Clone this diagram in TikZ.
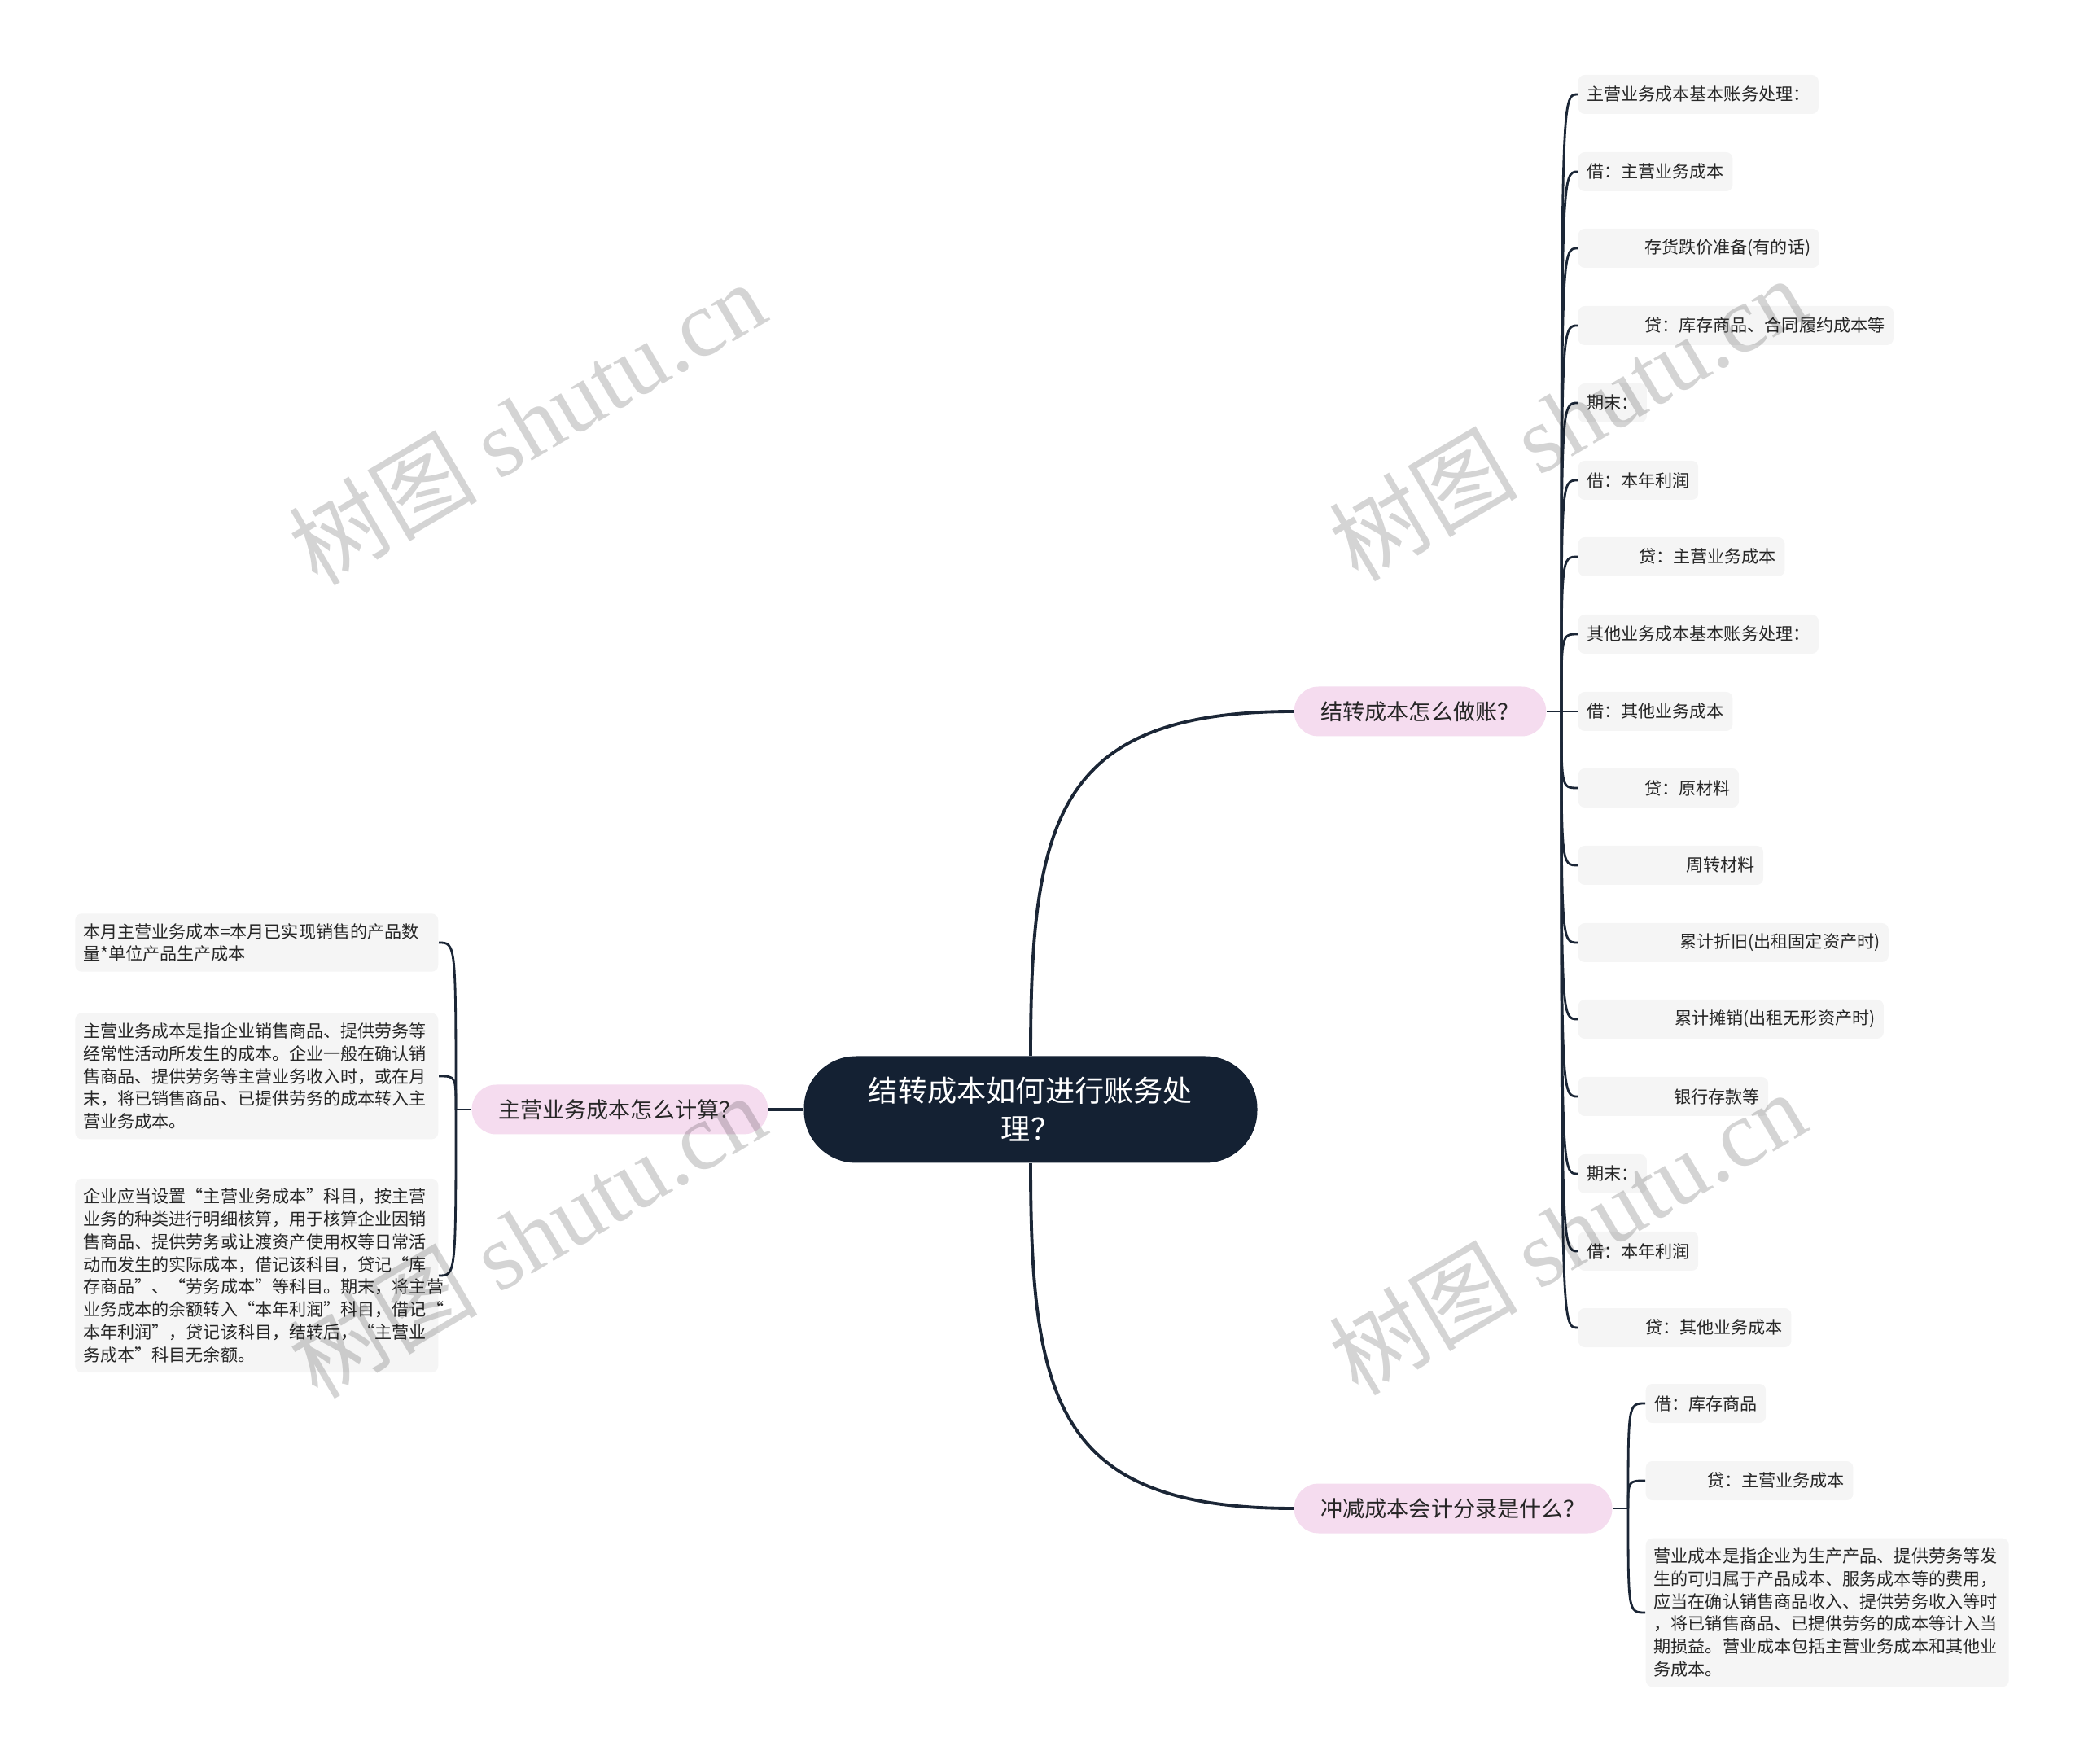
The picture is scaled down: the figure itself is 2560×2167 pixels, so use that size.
\documentclass[tikz,border=0pt]{standalone}
\usepackage{fontspec}
\setmainfont{Noto Sans CJK SC}
\newfontfamily\wmfont{Liberation Serif}
\usepackage{tikz}
\usetikzlibrary{positioning}
\definecolor{mmnavy}{HTML}{142133}
\definecolor{mmline}{HTML}{1B2636}
\definecolor{mmpink}{HTML}{F5DCEF}
\definecolor{mmgray}{HTML}{F5F5F5}

\begin{document}
\begin{tikzpicture}[x=0.1mm, y=-0.1mm,
    root/.style={rectangle, rounded corners=6.4mm, fill=mmnavy, text=white,
                 minimum width=55.7mm, minimum height=13.1mm, align=center,
                 font=\fontsize{10.3}{13.4}\selectfont},
    topic/.style={rectangle, rounded corners=3mm, fill=mmpink, text=black!85,
                  minimum height=6.1mm, inner xsep=3.3mm,
                  font=\fontsize{7.7}{9}\selectfont},
    leaf/.style={rectangle, rounded corners=0.8mm, fill=mmgray, text=black!85,
                 minimum height=4.8mm, inner xsep=1.05mm, anchor=west,
                 font=\fontsize{6}{7.9}\selectfont},
    note/.style={rectangle, rounded corners=0.8mm, fill=mmgray, text=black!85,
                 text width=42.6mm, inner xsep=1mm, inner ysep=1.2mm, align=left,
                 font=\fontsize{6}{7.9}\selectfont},
    link/.style={draw=mmline, line width=1.1pt},
    twig/.style={draw=mmline, line width=0.8pt},
    wmark/.style={text=black, text opacity=0.17, font=\fontsize{33}{33}\selectfont}
  ]
    \useasboundingbox (0,0) rectangle (2560,2167);

    % Root
    \node[root] (root) at (1266,1363) {结转成本如何进行账务处\\理？};

    % Topics
    \node[topic, anchor=west] (acct)  at (1589,874)  {结转成本怎么做账？};
    \node[topic, anchor=east] (mcost) at (944,1363)  {主营业务成本怎么计算？};
    \node[topic, anchor=west] (rev)   at (1589,1853) {冲减成本会计分录是什么？};

    % Topic 1: entries
    \node[leaf] (r1)  at (1938,116)  {主营业务成本基本账务处理：};
    \node[leaf] (r2)  at (1938,211)  {借：主营业务成本};
    \node[leaf] (r3)  at (1938,305)  {\hspace*{7.1mm}存货跌价准备(有的话)};
    \node[leaf] (r4)  at (1938,400)  {\hspace*{7.1mm}贷：库存商品、合同履约成本等};
    \node[leaf] (r5)  at (1938,495)  {期末：};
    \node[leaf] (r6)  at (1938,590)  {借：本年利润};
    \node[leaf] (r7)  at (1938,684)  {\hspace*{6.4mm}贷：主营业务成本};
    \node[leaf] (r8)  at (1938,779)  {其他业务成本基本账务处理：};
    \node[leaf] (r9)  at (1938,874)  {借：其他业务成本};
    \node[leaf] (r10) at (1938,968)  {\hspace*{7.1mm}贷：原材料};
    \node[leaf] (r11) at (1938,1063) {\hspace*{12.2mm}周转材料};
    \node[leaf] (r12) at (1938,1158) {\hspace*{11.4mm}累计折旧(出租固定资产时)};
    \node[leaf] (r13) at (1938,1252) {\hspace*{10.8mm}累计摊销(出租无形资产时)};
    \node[leaf] (r14) at (1938,1347) {\hspace*{10.7mm}银行存款等};
    \node[leaf] (r15) at (1938,1442) {期末：};
    \node[leaf] (r16) at (1938,1537) {借：本年利润};
    \node[leaf] (r17) at (1938,1631) {\hspace*{7.2mm}贷：其他业务成本};

    % Topic 2: notes
    \node[note, anchor=east] (na) at (539,1158) {本月主营业务成本=本月已实现销售的产品数\\量*单位产品生产成本};
    \node[note, anchor=east] (nb) at (539,1322) {主营业务成本是指企业销售商品、提供劳务等\\经常性活动所发生的成本。企业一般在确认销\\售商品、提供劳务等主营业务收入时，或在月\\末，将已销售商品、已提供劳务的成本转入主\\营业务成本。};
    \node[note, anchor=east] (nc) at (539,1567) {企业应当设置“主营业务成本”科目，按主营\\业务的种类进行明细核算，用于核算企业因销\\售商品、提供劳务或让渡资产使用权等日常活\\动而发生的实际成本，借记该科目，贷记“库\\存商品”、“劳务成本”等科目。期末，将主营\\业务成本的余额转入“本年利润”科目，借记“\\本年利润”，贷记该科目，结转后，“主营业\\务成本”科目无余额。};

    % Topic 3: entries
    \node[leaf] (b1) at (2021,1724) {借：库存商品};
    \node[leaf] (b2) at (2021,1819) {\hspace*{6.5mm}贷：主营业务成本};
    \node[note, anchor=west] (b3) at (2021,1981) {营业成本是指企业为生产产品、提供劳务等发\\生的可归属于产品成本、服务成本等的费用，\\应当在确认销售商品收入、提供劳务收入等时\\，将已销售商品、已提供劳务的成本等计入当\\期损益。营业成本包括主营业务成本和其他业\\务成本。};

    % Junctions
    \coordinate (ja) at (1918,874);
    \coordinate (jm) at (560,1363);
    \coordinate (jr) at (2000,1853);

    % Root to topics
    \draw[link] (root.north) to[out=90, in=180, looseness=1.4] (acct.west);
    \draw[link] (root.south) to[out=-90, in=180, looseness=1.4] (rev.west);
    \draw[link] (root.west) -- (mcost.east);

    % Topic 1 branches
    \draw[twig] (acct.east) -- (ja);
    \draw[twig] (ja) .. controls (ja |- r1.west) .. (r1.west);
    \draw[twig] (ja) .. controls (ja |- r2.west) .. (r2.west);
    \draw[twig] (ja) .. controls (ja |- r3.west) .. (r3.west);
    \draw[twig] (ja) .. controls (ja |- r4.west) .. (r4.west);
    \draw[twig] (ja) .. controls (ja |- r5.west) .. (r5.west);
    \draw[twig] (ja) .. controls (ja |- r6.west) .. (r6.west);
    \draw[twig] (ja) .. controls (ja |- r7.west) .. (r7.west);
    \draw[twig] (ja) .. controls (ja |- r8.west) .. (r8.west);
    \draw[twig] (ja) -- (r9.west);
    \draw[twig] (ja) .. controls (ja |- r10.west) .. (r10.west);
    \draw[twig] (ja) .. controls (ja |- r11.west) .. (r11.west);
    \draw[twig] (ja) .. controls (ja |- r12.west) .. (r12.west);
    \draw[twig] (ja) .. controls (ja |- r13.west) .. (r13.west);
    \draw[twig] (ja) .. controls (ja |- r14.west) .. (r14.west);
    \draw[twig] (ja) .. controls (ja |- r15.west) .. (r15.west);
    \draw[twig] (ja) .. controls (ja |- r16.west) .. (r16.west);
    \draw[twig] (ja) .. controls (ja |- r17.west) .. (r17.west);

    % Topic 2 branches
    \draw[twig] (mcost.west) -- (jm);
    \draw[twig] (jm) .. controls (jm |- na.east) .. (na.east);
    \draw[twig] (jm) .. controls (jm |- nb.east) .. (nb.east);
    \draw[twig] (jm) .. controls (jm |- nc.east) .. (nc.east);

    % Topic 3 branches
    \draw[twig] (rev.east) -- (jr);
    \draw[twig] (jr) .. controls (jr |- b1.west) .. (b1.west);
    \draw[twig] (jr) .. controls (jr |- b2.west) .. (b2.west);
    \draw[twig] (jr) .. controls (jr |- b3.west) .. (b3.west);

    % Watermarks
    \node[wmark, rotate=30.6] (w1) at (647,519)  {树图 {\wmfont shutu.cn}};
    \node[wmark, rotate=30.6] (w2) at (1925,514) {树图 {\wmfont shutu.cn}};
    \node[wmark, rotate=30.6] (w3) at (1925,1514) {树图 {\wmfont shutu.cn}};
    \node[wmark, rotate=30.6] (w4) at (647,1518) {树图 {\wmfont shutu.cn}};
  \end{tikzpicture}
\end{document}
